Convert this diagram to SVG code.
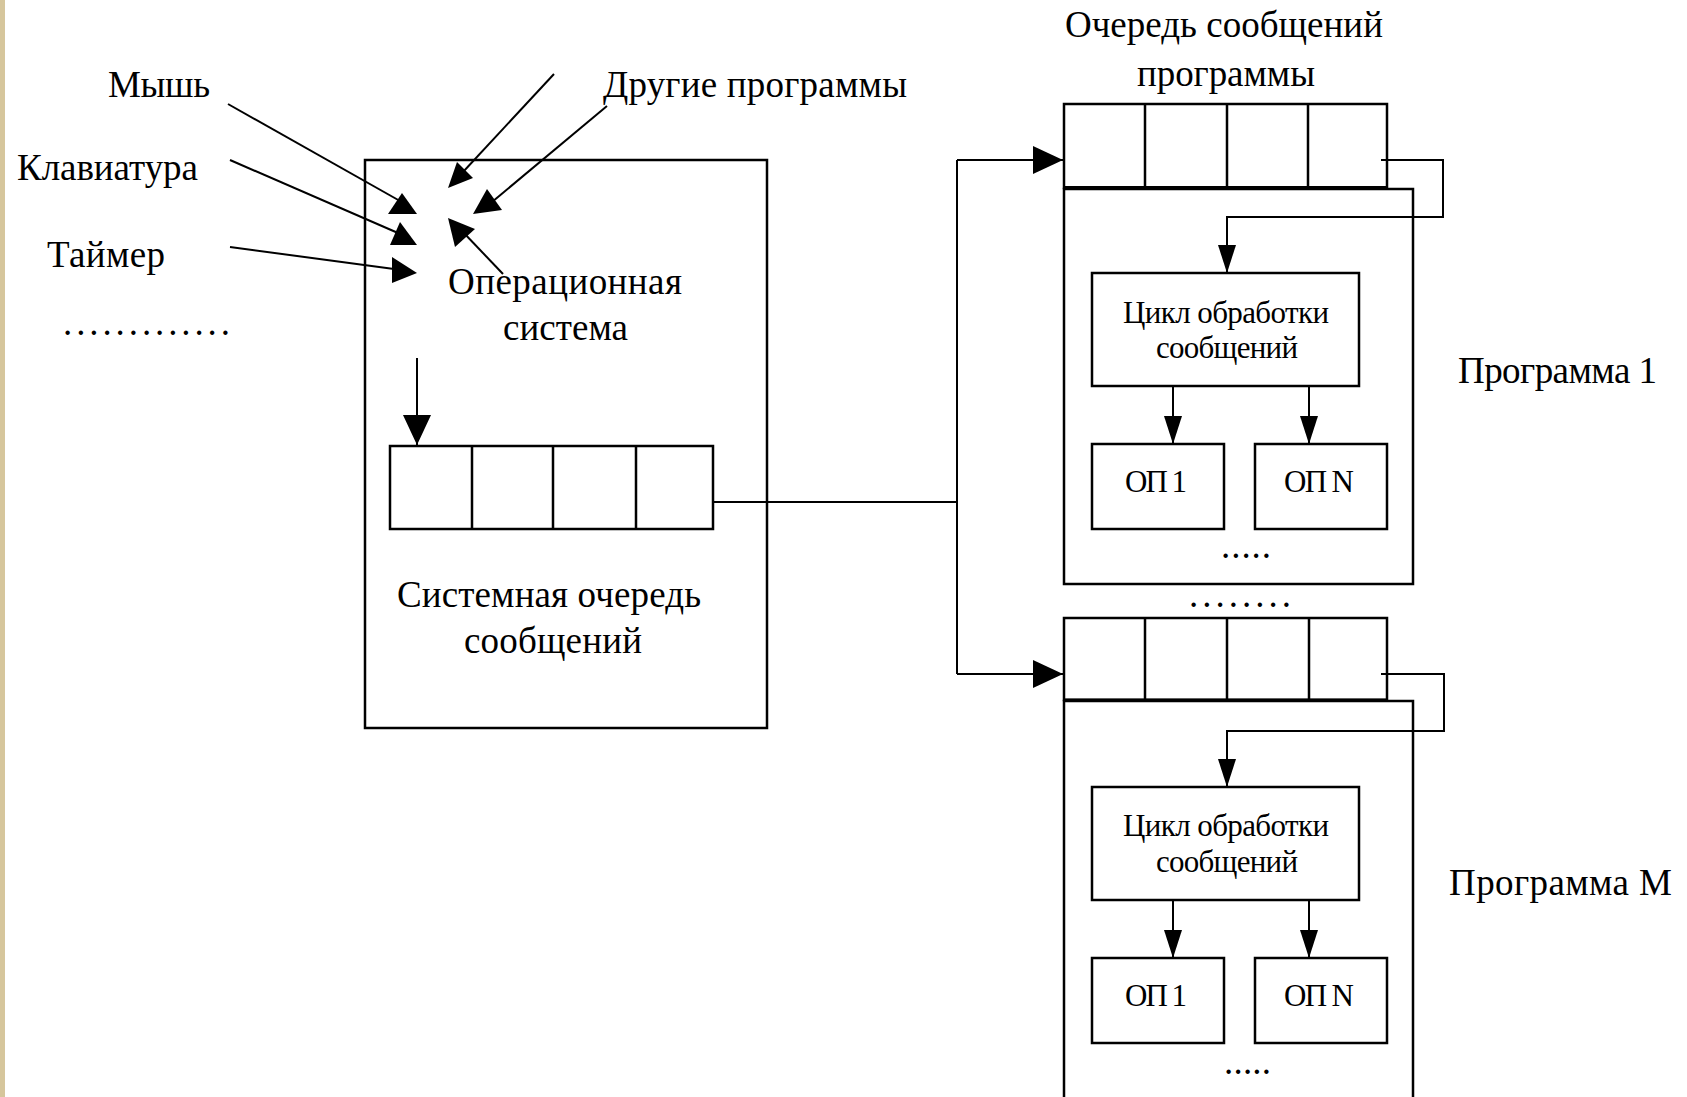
<svg xmlns="http://www.w3.org/2000/svg" width="1687" height="1097" viewBox="0 0 1687 1097">
<style>
.box{fill:none;stroke:#000;stroke-width:2.5}
.ln{fill:none;stroke:#000;stroke-width:2}
.t{font-family:"Liberation Serif","Times New Roman",serif;font-size:37px;fill:#000}
.s{font-family:"Liberation Serif","Times New Roman",serif;font-size:31px;fill:#000}
.ah{fill:#000}
</style>
<defs>
<marker id="big" markerUnits="userSpaceOnUse" viewBox="0 0 30 28" markerWidth="30" markerHeight="28" refX="30" refY="14" orient="auto"><path d="M0,0 L30,14 L0,28 Z"/></marker>
<marker id="narrow" markerUnits="userSpaceOnUse" viewBox="0 0 28 18" markerWidth="28" markerHeight="18" refX="28" refY="9" orient="auto"><path d="M0,0 L28,9 L0,18 Z"/></marker>
</defs>
<rect x="0" y="0" width="1687" height="1097" fill="#fff"/>
<rect x="0" y="0" width="5" height="1097" fill="#d6c69c"/>

<g id="inputs">
<text class="t" x="108" y="97" textLength="102">Мышь</text>
<text class="t" x="17" y="180" textLength="181">Клавиатура</text>
<text class="t" x="47" y="267" textLength="118">Таймер</text>
<text class="t" x="63" y="335" textLength="167">.............</text>
<text class="t" x="603" y="97" textLength="304">Другие программы</text>
</g>

<g id="os">
<rect class="box" x="365" y="160" width="402" height="568"/>
<text class="t" x="448" y="294" textLength="234">Операционная</text>
<text class="t" x="503" y="340" textLength="125">система</text>
<text class="t" x="397" y="607" textLength="304">Системная очередь</text>
<text class="t" x="464" y="653" textLength="178">сообщений</text>
</g>

<g id="system-queue">
<rect class="box" x="390" y="446" width="323" height="83"/>
<path class="box" d="M472,446 V529 M553,446 V529 M636,446 V529"/>
</g>

<g id="program1">
<text class="t" x="1065" y="37" textLength="318">Очередь сообщений</text>
<text class="t" x="1137" y="86" textLength="178">программы</text>
<rect class="box" x="1064" y="189" width="349" height="395"/>
<rect class="box" x="1064" y="104" width="323" height="84"/>
<path class="box" d="M1145,104 V188 M1227,104 V188 M1308,104 V188"/>
<path d="M1064,188 H1387" stroke="#000" stroke-width="4"/>
<text class="t" x="1458" y="383" textLength="199">Программа 1</text>
<text class="t" x="1221" y="558" textLength="50">.....</text>
</g>
<g id="loop1">
<rect class="box" x="1092" y="273" width="267" height="113"/>
<text class="s" x="1123" y="323" textLength="206">Цикл обработки</text>
<text class="s" x="1156" y="358" textLength="142">сообщений</text>
</g>
<g id="op1-1">
<rect class="box" x="1092" y="444" width="132" height="85"/>
<text class="s" x="1125" y="492" textLength="62">ОП 1</text>
</g>
<g id="opN-1">
<rect class="box" x="1255" y="444" width="132" height="85"/>
<text class="s" x="1284" y="492" textLength="70">ОП N</text>
</g>

<text class="t" x="1189" y="607" textLength="102">........</text>

<g id="programM">
<rect class="box" x="1064" y="701" width="349" height="420"/>
<rect class="box" x="1064" y="618" width="323" height="82"/>
<path class="box" d="M1145,618 V700 M1227,618 V700 M1309,618 V700"/>
<path d="M1064,700 H1387" stroke="#000" stroke-width="3"/>
<text class="t" x="1449" y="895" textLength="223">Программа М</text>
<text class="t" x="1224" y="1074" textLength="47">.....</text>
</g>
<g id="loopM">
<rect class="box" x="1092" y="787" width="267" height="113"/>
<text class="s" x="1123" y="836" textLength="206">Цикл обработки</text>
<text class="s" x="1156" y="872" textLength="142">сообщений</text>
</g>
<g id="op1-M">
<rect class="box" x="1092" y="958" width="132" height="85"/>
<text class="s" x="1125" y="1006" textLength="62">ОП 1</text>
</g>
<g id="opN-M">
<rect class="box" x="1255" y="958" width="132" height="85"/>
<text class="s" x="1284" y="1006" textLength="70">ОП N</text>
</g>

<g id="connectors">
<path class="ln" d="M228,104 L400,201"/>
<polygon class="ah" points="402,193 388,214 417,214"/>
<path class="ln" d="M230,160 L398,233"/>
<polygon class="ah" points="400,222 390,245 417,245"/>
<path class="ln" d="M230,247 L394,269"/>
<polygon class="ah" points="392,257 392,283 417,273"/>
<path class="ln" d="M554,74 L463,172"/>
<polygon class="ah" points="457,162 473,178 448,188"/>
<path class="ln" d="M607,106 L492,202"/>
<polygon class="ah" points="487,189 502,210 473,214"/>
<path class="ln" d="M503,274 L462,231"/>
<polygon class="ah" points="448,218 475,229 455,247"/>
<path class="ln" d="M417,358 V445" marker-end="url(#big)"/>
<path class="ln" d="M713,502 H957 M957,160 V674"/>
<path class="ln" d="M957,160 H1063" marker-end="url(#big)"/>
<path class="ln" d="M957,674 H1063" marker-end="url(#big)"/>
<path class="ln" d="M1381,160 H1443 V217 H1227 V273" marker-end="url(#narrow)"/>
<path class="ln" d="M1381,674 H1444 V731 H1227 V787" marker-end="url(#narrow)"/>
<path class="ln" d="M1173,386 V444" marker-end="url(#narrow)"/>
<path class="ln" d="M1309,386 V444" marker-end="url(#narrow)"/>
<path class="ln" d="M1173,900 V958" marker-end="url(#narrow)"/>
<path class="ln" d="M1309,900 V958" marker-end="url(#narrow)"/>
</g>
</svg>
